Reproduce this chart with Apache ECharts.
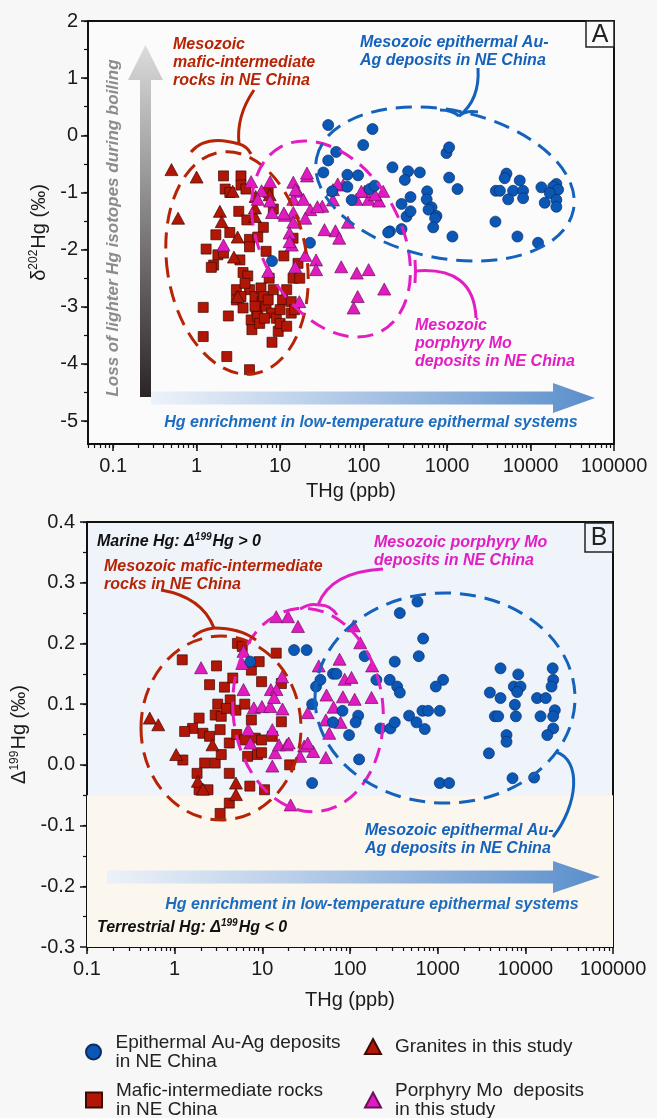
<!DOCTYPE html>
<html>
<head>
<meta charset="utf-8">
<script src="https://cdn.jsdelivr.net/npm/echarts@6/dist/echarts.min.js"></script>
<style>
  html, body { margin: 0; padding: 0; background: #f7f7f7; }
  #main { width: 657px; height: 1118px; }
</style>
</head>
<body>
<div id="main"></div>
<script>
// ---- data: [THg (ppb), isotope value] ----
// panel A: d202Hg
const auA = [[37.7,0.18],[128,0.11],[99,-0.17],[47,-0.29],[37.7,-0.44],[33,-0.65],[64,-0.69],[86,-0.70],[64,-0.90],[42,-0.98],[72,-1.13],[119,-0.94],[136,-0.88],[222,-0.56],[342,-0.63],[312,-0.78],[472,-0.65],[285,-1.2],[365,-1.08],[327,-1.42],[365,-1.33],[207,-1.68],[285,-1.64],[578,-0.98],[570,-1.12],[652,-1.26],[600,-1.30],[747,-1.41],[720,-1.45],[683,-1.61],[985,-0.31],[1060,-0.21],[1060,-0.74],[1335,-0.94],[1160,-1.77],[3840,-0.97],[5150,-0.67],[4900,-0.75],[6180,-0.97],[7430,-0.79],[8150,-0.97],[8150,-1.1],[5400,-1.12],[3800,-1.51],[6970,-1.77],[12300,-1.88],[13500,-0.91],[20400,-0.85],[18700,-0.9],[21400,-0.95],[17000,-1.01],[14800,-1.18],[20400,-1.13],[20400,-1.25],[4300,-0.97],[22.8,-1.88],[197,-1.7],[8.0,-2.2]];
const mafA = [[2.1,-0.71],[3.4,-0.71],[2.2,-0.94],[2.5,-1.0],[3.4,-0.87],[3.9,-0.94],[7.2,-1.0],[3.2,-1.33],[4.0,-1.48],[8.3,-1.29],[6.3,-1.61],[1.7,-1.74],[2.5,-1.7],[1.3,-1.99],[1.8,-2.09],[2.1,-2.06],[1.6,-2.27],[1.5,-2.31],[4.3,-1.82],[5.4,-1.78],[3.3,-2.18],[3.6,-2.4],[4.1,-2.46],[4.3,-1.95],[6.8,-2.03],[11.1,-2.11],[7.4,-2.5],[14.3,-1.8],[16.4,-2.24],[14.3,-2.5],[17.2,-2.5],[1.2,-3.01],[2.4,-3.16],[3.0,-2.7],[3.0,-2.88],[3.6,-3.02],[4.3,-2.7],[5.0,-2.82],[5.2,-3.05],[4.5,-3.23],[4.6,-3.4],[5.9,-2.67],[6.1,-2.91],[6.8,-2.99],[8.3,-2.7],[7.9,-3.11],[9.0,-3.2],[9.5,-3.43],[10.7,-2.88],[13.6,-2.91],[13.6,-3.11],[14.9,-3.05],[10.0,-3.29],[12.0,-3.34],[8.0,-3.62],[2.3,-3.87],[1.2,-3.52],[4.3,-4.1],[5.4,-3.17],[5.7,-3.29],[6.5,-3.2],[3.8,-2.59],[6.3,-2.82],[5.0,-2.99],[7.2,-2.88],[10.0,-3.05],[3.4,-2.82],[12.0,-2.7]];
const graA = [[0.5,-0.6],[1.0,-0.73],[0.6,-1.45],[1.9,-1.33],[2.0,-1.51],[3.1,-1.78],[2.8,-2.13],[5.0,-1.42],[5.0,-1.27],[7.5,-1.04],[5.1,-1.07],[3.1,-2.82],[2.7,-0.98]];
const porA = [[4.5,-0.81],[7.6,-0.81],[21,-0.71],[14.4,-0.82],[16.2,-0.98],[14.4,-1.12],[19,-1.12],[6.0,-0.97],[5.4,-1.12],[7.6,-1.15],[8,-1.35],[11.4,-1.4],[14.4,-1.35],[14.4,-1.52],[23,-1.3],[32,-1.24],[46,-1.67],[65,-1.52],[57,-0.87],[82,-1.12],[115,-1.12],[153,-1.15],[172,-0.98],[103,-0.98],[15.3,-0.95],[28,-1.25],[43,-0.95],[43,-1.13],[49,-0.85],[34,-1.65],[51,-1.8],[137,-1.04],[94,-0.98],[2.1,-1.92],[7.2,-2.38],[15.2,-2.3],[20,-2.1],[27,-2.18],[27,-2.35],[54,-2.3],[83,-2.41],[115,-2.35],[85,-2.82],[76,-3.02],[177,-2.69],[17,-2.91],[13.8,-1.92],[11.1,-1.36],[20,-1.45],[13,-1.71],[13,-1.86],[21,-0.66]];

// panel B: D199Hg
const auB = [[588,0.269],[370,0.25],[683,0.208],[609,0.179],[324,0.17],[284,0.14],[345,0.129],[370,0.119],[1153,0.14],[952,0.129],[472,0.081],[573,0.07],[713,0.059],[670,0.089],[778,0.089],[1057,0.089],[222,0.06],[289,0.06],[324,0.07],[5210,0.159],[8300,0.149],[7390,0.129],[8810,0.129],[8070,0.12],[3940,0.119],[5210,0.11],[7600,0.099],[4490,0.08],[4900,0.08],[7800,0.08],[6100,0.049],[6100,0.038],[3840,0.019],[20500,0.159],[20800,0.14],[19900,0.129],[13600,0.11],[17100,0.11],[21700,0.09],[14900,0.08],[20800,0.08],[20800,0.06],[17800,0.049],[7140,-0.022],[12600,-0.021],[1057,-0.03],[1352,-0.03],[37,-0.03],[127,0.009],[97.5,0.049],[124,0.081],[116,0.07],[82,0.089],[64,0.07],[37,0.1],[41,0.129],[46,0.14],[64,0.15],[70,0.15],[147,0.179],[200,0.14],[23,0.189],[32,0.189],[7.3,0.17]];
const mafB = [[1.22,0.173],[3.0,0.163],[2.5,0.132],[3.7,0.128],[4.6,0.143],[5.2,0.2],[5.9,0.195],[7.5,0.156],[9.2,0.17],[14.4,0.184],[9.8,0.137],[16.5,0.134],[4.3,0.107],[3.1,0.1],[2.9,0.082],[3.4,0.08],[3.9,0.093],[5.0,0.09],[6.3,0.1],[7.5,0.074],[1.9,0.077],[1.6,0.06],[1.3,0.055],[2.1,0.052],[2.5,0.047],[3.3,0.058],[4.2,0.036],[5.1,0.05],[6.3,0.041],[8.3,0.044],[9.8,0.041],[13,0.047],[16.5,0.071],[1.24,0.008],[2.2,0.003],[2.9,0.003],[3.4,0.017],[4.2,-0.014],[6.8,0.014],[8.8,0.017],[9.8,0.02],[1.8,-0.014],[2.4,-0.041],[4.2,-0.063],[7.2,-0.035],[10.6,-0.041],[3.3,-0.08],[20.5,0.0],[1.9,-0.041]];
const graB = [[0.52,0.077],[0.65,0.066],[1.04,0.017],[1.84,-0.027],[2.1,-0.04],[5.0,-0.03],[5.0,-0.049],[2.7,0.033]];
const porB = [[2.0,0.16],[6.1,0.187],[5.9,0.167],[6.1,0.124],[8.0,0.094],[9.9,0.096],[12.3,0.096],[17,0.092],[12.5,0.124],[14.5,0.124],[6.9,0.058],[13,0.058],[7.3,0.036],[14,0.02],[15.5,0.033],[19,0.033],[13,-0.002],[16.8,0.145],[21,-0.066],[14.4,0.244],[19.6,0.244],[25.5,0.228],[110,0.229],[131,0.201],[179,0.163],[176,0.111],[76,0.174],[44,0.163],[87,0.141],[104,0.144],[83,0.112],[113,0.108],[54,0.115],[65,0.095],[33,0.086],[53,0.074],[78,0.07],[58,0.052],[30,0.031],[38,0.022],[53,0.012],[27,0.014],[20,0.036],[33,0.036],[13.6,0.111]];

// axis ticks
const xTicks = [-1, 0, 1, 2, 3, 4, 5];   // log10 of THg
const xTickLabels = ['0.1', '1', '10', '100', '1000', '10000', '100000'];
const yTicksA = [-5, -4, -3, -2, -1, 0, 1, 2];

const seriesNames = [
  'Epithermal Au-Ag deposits in NE China',
  'Mafic-intermediate rocks in NE China',
  'Granites in this study',
  'Porphyry Mo  deposits in this study'
];
const legendText = {
  'Epithermal Au-Ag deposits in NE China': 'Epithermal Au-Ag deposits\nin NE China',
  'Mafic-intermediate rocks in NE China': 'Mafic-intermediate rocks\nin NE China',
  'Granites in this study': 'Granites in this study',
  'Porphyry Mo  deposits in this study': 'Porphyry Mo  deposits\nin this study'
};

const RED = '#b11606', BLUE = '#0b57b6', MAG = '#e01cc0';
const RED_L = '#b62406', BLUE_L = '#1462bb', MAG_L = '#e21ec3';
const FONT = '"Liberation Sans", Arial, sans-serif';

// minor log ticks (2..9 per decade) between lo and hi
function logMinor(lo, hi) {
  const out = [];
  for (let d = -2; d < 5; d++) {
    for (let k = 1; k < 10; k++) {
      const v = d + Math.log10(k);
      if (v >= lo - 1e-9 && v <= hi + 1e-9) out.push(v);
    }
  }
  return out;
}
function halfTicks(lo, hi, step) {
  const out = [];
  for (let v = Math.ceil(lo / step) * step; v <= hi + 1e-9; v += step) out.push(+v.toFixed(3));
  return out;
}

const xMinA = Math.log10(0.05), xMaxA = 5;
const xMinB = -1, xMaxB = 5;

function mainX(grid, min, max, gap) {
  return {
    gridIndex: grid, type: 'value', min: min, max: max, position: 'bottom',
    axisLine: { show: true, onZero: false, lineStyle: { color: '#111', width: 2 } },
    axisTick: { show: true, customValues: xTicks, length: 7, lineStyle: { color: '#111', width: 1.5 } },
    axisLabel: {
      customValues: xTicks, fontSize: 20, color: '#1a1a1a', margin: 12, fontFamily: FONT,
      formatter: v => xTickLabels[xTicks.indexOf(Math.round(v))]
    },
    splitLine: { show: false },
    name: 'THg (ppb)', nameLocation: 'middle', nameGap: gap,
    nameTextStyle: { fontSize: 20, color: '#1a1a1a', fontFamily: FONT }
  };
}
function minorX(grid, min, max) {
  return {
    gridIndex: grid, type: 'value', min: min, max: max, position: 'bottom', offset: 0,
    axisLine: { show: false, onZero: false }, axisLabel: { show: false }, splitLine: { show: false },
    axisTick: { show: true, customValues: logMinor(min, max), length: 4, lineStyle: { color: '#111', width: 1.2 } }
  };
}
function minorY(grid, min, max, step) {
  return {
    gridIndex: grid, type: 'value', min: min, max: max, position: 'left', offset: 0,
    axisLine: { show: false, onZero: false }, axisLabel: { show: false }, splitLine: { show: false },
    axisTick: { show: true, customValues: halfTicks(min, max, step), length: 4, lineStyle: { color: '#111', width: 1.2 } }
  };
}

function scat(name, data, idx, symbol, size, color, border, z) {
  return {
    type: 'scatter', name: name, xAxisIndex: idx, yAxisIndex: idx,
    symbol: symbol, symbolSize: size, z: z,
    data: data.map(p => [Math.log10(p[0]), p[1]]),
    itemStyle: { color: color, borderColor: border, borderWidth: 0.7, opacity: 1 },
    emphasis: { disabled: true }
  };
}

function ell(cx, cy, rx, ry, rot, color) {
  return {
    type: 'ellipse', x: cx, y: cy, rotation: rot, silent: true, z: 60,
    shape: { cx: 0, cy: 0, rx: rx, ry: ry },
    style: { fill: null, stroke: color, lineWidth: 3, lineDash: [16, 9] }
  };
}
function bez(p, color) {
  const shape = { x1: p[0], y1: p[1], cpx1: p[2], cpy1: p[3], x2: p[p.length - 2], y2: p[p.length - 1] };
  if (p.length === 8) { shape.cpx2 = p[4]; shape.cpy2 = p[5]; }
  return { type: 'bezierCurve', silent: true, z: 60, shape: shape, style: { fill: null, stroke: color, lineWidth: 3 } };
}
function label(x, y, text, color, size) {
  return {
    type: 'text', x: x, y: y, silent: true, z: 70,
    style: { text: text, fill: color, font: 'italic bold ' + (size || 16) + 'px ' + FONT, lineHeight: 18, align: 'left', verticalAlign: 'top' }
  };
}
function supText(x, y, a, sup, b) {
  return {
    type: 'text', x: x, y: y, silent: true, z: 70,
    style: {
      text: '{m|' + a + '}{s|' + sup + '}{m|' + b + '}', align: 'left', verticalAlign: 'middle',
      rich: {
        m: { fontSize: 16, fontWeight: 'bold', fontStyle: 'italic', fontFamily: FONT, fill: '#111', color: '#111' },
        s: { fontSize: 10, fontWeight: 'bold', fontStyle: 'italic', fontFamily: FONT, fill: '#111', color: '#111', padding: [0, 1, 9, 0], verticalAlign: 'bottom' }
      }
    }
  };
}
function hArrow(x0, x1, xt, yc, half, headHalf) {
  return {
    type: 'polygon', silent: true, z: 3,
    shape: { points: [[x0, yc - half], [x1, yc - half], [x1, yc - headHalf], [xt, yc], [x1, yc + headHalf], [x1, yc + half], [x0, yc + half]] },
    style: { fill: { type: 'linear', x: 0, y: 0, x2: 1, y2: 0, colorStops: [{ offset: 0, color: 'rgba(235,241,250,0.9)' }, { offset: 1, color: '#5a8ecb' }] } }
  };
}

const chart = echarts.init(document.getElementById('main'), null, { renderer: 'canvas' });

const option = {
  backgroundColor: '#f7f7f7',
  animation: false,
  grid: [
    { left: 88, top: 21, width: 526, height: 423, show: true, borderColor: '#111', borderWidth: 2, backgroundColor: '#fbfbfb' },
    { left: 87, top: 522, width: 526, height: 425, show: true, borderColor: '#111', borderWidth: 2, backgroundColor: '#eef4fa' }
  ],
  xAxis: [
    mainX(0, xMinA, xMaxA, 37),
    minorX(0, xMinA, xMaxA),
    mainX(1, xMinB, xMaxB, 43),
    minorX(1, xMinB, xMaxB)
  ],
  yAxis: [
    {
      gridIndex: 0, type: 'value', min: -5.4, max: 2, position: 'left',
      axisLine: { show: true, onZero: false, lineStyle: { color: '#111', width: 2 } },
      axisTick: { show: true, customValues: yTicksA, length: 7, lineStyle: { color: '#111', width: 1.5 } },
      axisLabel: { customValues: yTicksA, fontSize: 20, color: '#1a1a1a', margin: 10, fontFamily: FONT },
      splitLine: { show: false },
      name: '{t|δ}{s|202}{t|Hg (‰)}', nameLocation: 'middle', nameRotate: 90, nameGap: 38,
      nameTextStyle: {
        rich: {
          t: { fontSize: 20, color: '#1a1a1a', fontFamily: FONT },
          s: { fontSize: 12, color: '#1a1a1a', fontFamily: FONT, padding: [0, 1, 10, 0], verticalAlign: 'bottom' }
        }
      }
    },
    minorY(0, -5.4, 2, 0.5),
    {
      gridIndex: 1, type: 'value', min: -0.3, max: 0.4, interval: 0.1, position: 'left',
      axisLine: { show: true, onZero: false, lineStyle: { color: '#111', width: 2 } },
      axisTick: { show: true, length: 7, lineStyle: { color: '#111', width: 1.5 } },
      minorTick: { show: true, splitNumber: 2, length: 4, lineStyle: { color: '#111', width: 1.2 } },
      axisLabel: { fontSize: 20, color: '#1a1a1a', margin: 12, fontFamily: FONT, formatter: v => v.toFixed(1) },
      splitLine: { show: false },
      name: '{t|Δ}{s|199}{t|Hg (‰)}', nameLocation: 'middle', nameRotate: 90, nameGap: 44,
      nameTextStyle: {
        rich: {
          t: { fontSize: 20, color: '#1a1a1a', fontFamily: FONT },
          s: { fontSize: 12, color: '#1a1a1a', fontFamily: FONT, padding: [0, 1, 10, 0], verticalAlign: 'bottom' }
        }
      }
    },
    minorY(1, -0.3, 0.4, 0.1)
  ],
  legend: [
    { left: 85, top: 1033 }, { left: 85, top: 1081 }, { left: 364, top: 1037 }, { left: 364, top: 1081 }
  ].map((pos, i) => ({
    left: pos.left, top: pos.top, padding: 0, orient: 'vertical',
    itemWidth: 16, itemHeight: 15, selectedMode: false,
    data: [{ name: seriesNames[i], icon: ['circle', 'rect', 'triangle', 'triangle'][i] }],
    formatter: n => legendText[n],
    textStyle: { fontSize: 19, lineHeight: 19, color: '#222', fontFamily: FONT, padding: [0, 0, 0, 9] }
  })),
  series: [
    // panel B background: terrestrial band
    {
      type: 'scatter', xAxisIndex: 2, yAxisIndex: 2, data: [], z: 1, silent: true,
      markArea: {
        silent: true, itemStyle: { color: '#fbf6ee' },
        data: [[{ xAxis: xMinB, yAxis: -0.3 }, { xAxis: xMaxB, yAxis: -0.05 }]]
      }
    },
    scat(seriesNames[1], mafA, 0, 'rect', 10, RED, '#3d0a02', 10),
    scat(seriesNames[2], graA, 0, 'triangle', [13, 12], RED, '#3d0a02', 11),
    scat(seriesNames[3], porA, 0, 'triangle', [13, 12], MAG, '#6b0f5c', 12),
    scat(seriesNames[0], auA, 0, 'circle', 11, BLUE, '#0a2d66', 13),
    scat(seriesNames[1], mafB, 2, 'rect', 10, RED, '#3d0a02', 10),
    scat(seriesNames[2], graB, 2, 'triangle', [13, 12], RED, '#3d0a02', 11),
    scat(seriesNames[3], porB, 2, 'triangle', [13, 12], MAG, '#6b0f5c', 12),
    scat(seriesNames[0], auB, 2, 'circle', 11, BLUE, '#0a2d66', 13)
  ],
  graphic: [
    // panel A arrows
    {
      type: 'polygon', silent: true, z: 3,
      shape: { points: [[140, 397], [140, 80], [128, 80], [145.5, 45], [163, 80], [151, 80], [151, 397]] },
      style: { fill: { type: 'linear', x: 0, y: 0, x2: 0, y2: 1, colorStops: [{ offset: 0, color: '#dcdcdc' }, { offset: 1, color: '#2b2424' }] } }
    },
    hArrow(151, 553, 595, 398, 6.5, 15),
    {
      type: 'text', x: 113, y: 228, rotation: Math.PI / 2, silent: true, z: 70,
      style: { text: 'Loss of lighter Hg isotopes during boiling', fill: '#8c8c8c', font: 'italic bold 17px ' + FONT, align: 'center', verticalAlign: 'middle' }
    },
    {
      type: 'text', x: 371, y: 423, silent: true, z: 70,
      style: { text: 'Hg enrichment in low-temperature epithermal systems', fill: '#1c6cbf', font: 'italic bold 16px ' + FONT, align: 'center', verticalAlign: 'middle' }
    },
    // panel A ellipses and callouts
    ell(237, 263, 70, 112, 0.15, RED_L),
    ell(331, 239, 70, 105, 0.5, MAG_L),
    ell(445, 184, 131, 74, -0.2, BLUE_L),
    bez([254, 90, 236, 116, 239, 144], RED_L),
    bez([191, 152, 206, 134, 239, 144], RED_L),
    bez([239, 144, 247, 146, 251, 154], RED_L),
    bez([478, 68, 480, 100, 459, 116], BLUE_L),
    bez([440, 110, 452, 110, 459, 116], BLUE_L),
    bez([459, 116, 466, 110, 478, 112], BLUE_L),
    bez([415, 260, 416, 271, 415, 283], MAG_L),
    bez([415, 271, 474, 266, 476, 318], MAG_L),
    label(173, 36, 'Mesozoic\nmafic-intermediate\nrocks in NE China', RED_L),
    label(360, 34, 'Mesozoic epithermal Au-\nAg deposits in NE China', BLUE_L),
    label(415, 317, 'Mesozoic\nporphyry Mo\ndeposits in NE China', MAG_L),
    {
      type: 'rect', silent: true, z: 70, shape: { x: 586, y: 21, width: 28, height: 26 },
      style: { fill: '#fbfbfb', stroke: '#222', lineWidth: 1.5 }
    },
    { type: 'text', x: 600, y: 35, silent: true, z: 71, style: { text: 'A', fill: '#222', font: '25px ' + FONT, align: 'center', verticalAlign: 'middle' } },

    // panel B
    hArrow(107, 553, 600, 877, 6.5, 16),
    {
      type: 'text', x: 372, y: 905, silent: true, z: 70,
      style: { text: 'Hg enrichment in low-temperature epithermal systems', fill: '#1c6cbf', font: 'italic bold 16px ' + FONT, align: 'center', verticalAlign: 'middle' }
    },
    supText(97, 542, 'Marine Hg: Δ', '199', 'Hg > 0'),
    supText(97, 928, 'Terrestrial Hg: Δ', '199', 'Hg < 0'),
    ell(221, 728, 80, 92, 0, RED_L),
    ell(308, 710, 75, 102, 0.1, MAG_L),
    ell(445, 698, 130, 105, 0, BLUE_L),
    bez([161, 590, 202, 597, 214, 628], RED_L),
    bez([193, 637, 200, 630, 214, 628], RED_L),
    bez([214, 628, 240, 628, 256, 640], RED_L),
    bez([383, 569, 330, 572, 318, 605], MAG_L),
    bez([300, 609, 310, 603, 318, 605], MAG_L),
    bez([318, 605, 330, 604, 337, 615], MAG_L),
    bez([556, 752, 582, 760, 578, 805, 553, 837], BLUE_L),
    label(104, 558, 'Mesozoic mafic-intermediate\nrocks in NE China', RED_L),
    label(374, 534, 'Mesozoic porphyry Mo\ndeposits in NE China', MAG_L),
    label(365, 822, 'Mesozoic epithermal Au-\nAg deposits in NE China', BLUE_L),
    {
      type: 'rect', silent: true, z: 70, shape: { x: 585, y: 523, width: 28, height: 29 },
      style: { fill: '#eef4fa', stroke: '#222', lineWidth: 1.5 }
    },
    { type: 'text', x: 599, y: 538, silent: true, z: 71, style: { text: 'B', fill: '#222', font: '25px ' + FONT, align: 'center', verticalAlign: 'middle' } }
  ]
};

chart.setOption(option);
</script>
</body>
</html>
